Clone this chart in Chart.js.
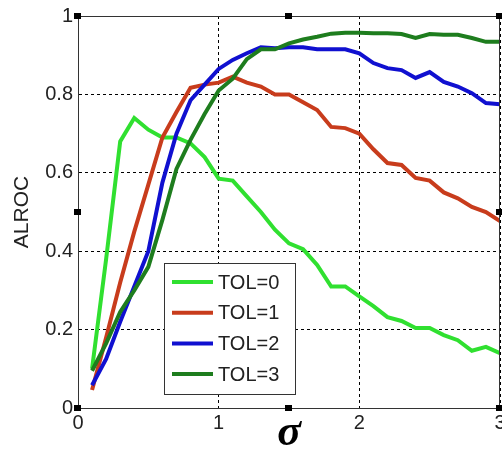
<!DOCTYPE html>
<html>
<head>
<meta charset="utf-8">
<script src="https://cdn.jsdelivr.net/npm/chart.js@4.4.1/dist/chart.umd.min.js"></script>
<style>
  html, body { margin: 0; padding: 0; background: #fff; }
  #wrap { width: 502px; height: 456px; }
</style>
</head>
<body>
<div id="wrap"><canvas id="chart" width="502" height="456"></canvas></div>
<script>
// sigma values (x axis)
const sigma = [0.1, 0.2, 0.3, 0.4, 0.5, 0.6, 0.7, 0.8, 0.9, 1.0,
               1.1, 1.2, 1.3, 1.4, 1.5, 1.6, 1.7, 1.8, 1.9, 2.0,
               2.1, 2.2, 2.3, 2.4, 2.5, 2.6, 2.7, 2.8, 2.9, 3.0];

// ALROC per tolerance
const tol0 = [0.10, 0.38, 0.68, 0.74, 0.71, 0.69, 0.69, 0.675, 0.64, 0.585,
              0.58, 0.54, 0.50, 0.455, 0.42, 0.405, 0.365, 0.31, 0.31, 0.285,
              0.26, 0.232, 0.222, 0.204, 0.204, 0.186, 0.173, 0.146, 0.156, 0.14];
const tol1 = [0.046, 0.18, 0.32, 0.45, 0.57, 0.69, 0.755, 0.817, 0.825, 0.83,
              0.845, 0.83, 0.82, 0.80, 0.80, 0.78, 0.76, 0.717, 0.714, 0.70,
              0.66, 0.625, 0.62, 0.587, 0.58, 0.55, 0.535, 0.513, 0.50, 0.477];
const tol2 = [0.058, 0.125, 0.22, 0.31, 0.40, 0.575, 0.70, 0.785, 0.825, 0.865,
              0.888, 0.905, 0.92, 0.918, 0.92, 0.92, 0.915, 0.915, 0.915, 0.905,
              0.88, 0.867, 0.862, 0.842, 0.857, 0.832, 0.82, 0.803, 0.778, 0.775];
const tol3 = [0.095, 0.165, 0.245, 0.30, 0.36, 0.48, 0.61, 0.684, 0.75, 0.81,
              0.84, 0.89, 0.915, 0.915, 0.93, 0.94, 0.947, 0.955, 0.957, 0.957,
              0.956, 0.956, 0.954, 0.944, 0.954, 0.952, 0.952, 0.944, 0.934, 0.934];

const seriesLabels = ['TOL=0', 'TOL=1', 'TOL=2', 'TOL=3'];
const seriesColors = ['#30e030', '#c83c1c', '#1010d0', '#1e7d1e'];
const seriesValues = [tol0, tol1, tol2, tol3];

const xTicks = [0, 1, 2, 3];
const yTicks = [0, 0.2, 0.4, 0.6, 0.8, 1];

const FONT = '"Liberation Sans", Arial, sans-serif';

// Box frame, MATLAB selection handles and the legend
const decorPlugin = {
    id: 'decor',
    afterDraw(chart) {
        const { ctx, chartArea: a } = chart;
        const l = Math.round(a.left) + 0.5, r = Math.round(a.right) - 0.5;
        const t = Math.round(a.top) + 0.5, b = Math.round(a.bottom) - 0.5;
        ctx.save();
        ctx.strokeStyle = '#333';
        ctx.lineWidth = 1;
        ctx.beginPath();
        ctx.moveTo(l, t); ctx.lineTo(r, t); ctx.lineTo(r, b);
        ctx.stroke();

        // handles
        ctx.fillStyle = '#000';
        const mx = (a.left + a.right) / 2, my = (a.top + a.bottom) / 2;
        [[a.left, a.top], [mx, a.top], [a.right, a.top],
         [a.left, my], [a.right, my],
         [a.left, a.bottom], [mx, a.bottom], [a.right, a.bottom]].forEach(([x, y]) => {
            ctx.fillRect(Math.round(x) - 4, Math.round(y) - 3, 7, 6);
        });

        // legend
        const lx = a.left + 86, ly = a.top + 247, lw = 131, lh = 131;
        ctx.fillStyle = '#fff';
        ctx.fillRect(lx, ly, lw, lh);
        ctx.strokeStyle = '#333';
        ctx.strokeRect(lx + 0.5, ly + 0.5, lw, lh);
        ctx.font = '20px ' + FONT;
        ctx.textBaseline = 'middle';
        ctx.textAlign = 'left';
        chart.data.datasets.forEach((ds, i) => {
            const y = ly + 19 + i * 30.7;
            ctx.strokeStyle = ds.borderColor;
            ctx.lineWidth = 4;
            ctx.beginPath();
            ctx.moveTo(lx + 8, y);
            ctx.lineTo(lx + 49, y);
            ctx.stroke();
            ctx.fillStyle = '#222';
            ctx.fillText(ds.label, lx + 54, y + 1);
        });
        ctx.restore();
    }
};

const datasets = seriesValues.map((vals, i) => ({
    label: seriesLabels[i],
    data: sigma.map((s, j) => ({ x: s, y: vals[j] })),
    borderColor: seriesColors[i],
    backgroundColor: seriesColors[i],
    borderWidth: 4,
    pointRadius: 0,
    tension: 0,
    fill: false,
    order: 3 - i
}));

new Chart(document.getElementById('chart'), {
    type: 'line',
    data: { datasets },
    options: {
        responsive: false,
        animation: false,
        devicePixelRatio: 1,
        layout: { padding: { left: 0, right: 2, top: 16, bottom: 0 } },
        plugins: {
            legend: { display: false },
            tooltip: { enabled: false }
        },
        scales: {
            x: {
                type: 'linear',
                min: 0,
                max: 3,
                afterBuildTicks: (scale) => { scale.ticks = xTicks.map(v => ({ value: v })); },
                afterFit: (scale) => { scale.height = 48; scale.paddingLeft = 0; scale.paddingRight = 0; },
                ticks: { color: '#222', font: { family: FONT, size: 20 }, padding: 3, maxRotation: 0,
                         callback: (v) => String(v) },
                grid: { color: '#000', lineWidth: 1, drawTicks: false },
                border: { color: '#333', width: 1, dash: [3, 3] },
                title: {
                    display: true,
                    text: 'σ',
                    color: '#000',
                    font: { family: '"Liberation Serif", "Times New Roman", serif', size: 44, style: 'italic', weight: 'bold', lineHeight: 1 },
                    padding: { top: 0, bottom: 0 }
                }
            },
            y: {
                min: 0,
                max: 1,
                afterBuildTicks: (scale) => { scale.ticks = yTicks.map(v => ({ value: v })); },
                afterFit: (scale) => { scale.width = 78; scale.paddingTop = 0; scale.paddingBottom = 0; },
                ticks: { color: '#222', font: { family: FONT, size: 20 }, padding: 5,
                         callback: (v) => String(v) },
                grid: { color: '#000', lineWidth: 1, drawTicks: false },
                border: { color: '#333', width: 1, dash: [3, 3] },
                title: {
                    display: true,
                    text: 'ALROC',
                    color: '#222',
                    font: { family: FONT, size: 21, lineHeight: 1 },
                    padding: { top: 12, bottom: 0 }
                }
            }
        }
    },
    plugins: [decorPlugin]
});
</script>
</body>
</html>
